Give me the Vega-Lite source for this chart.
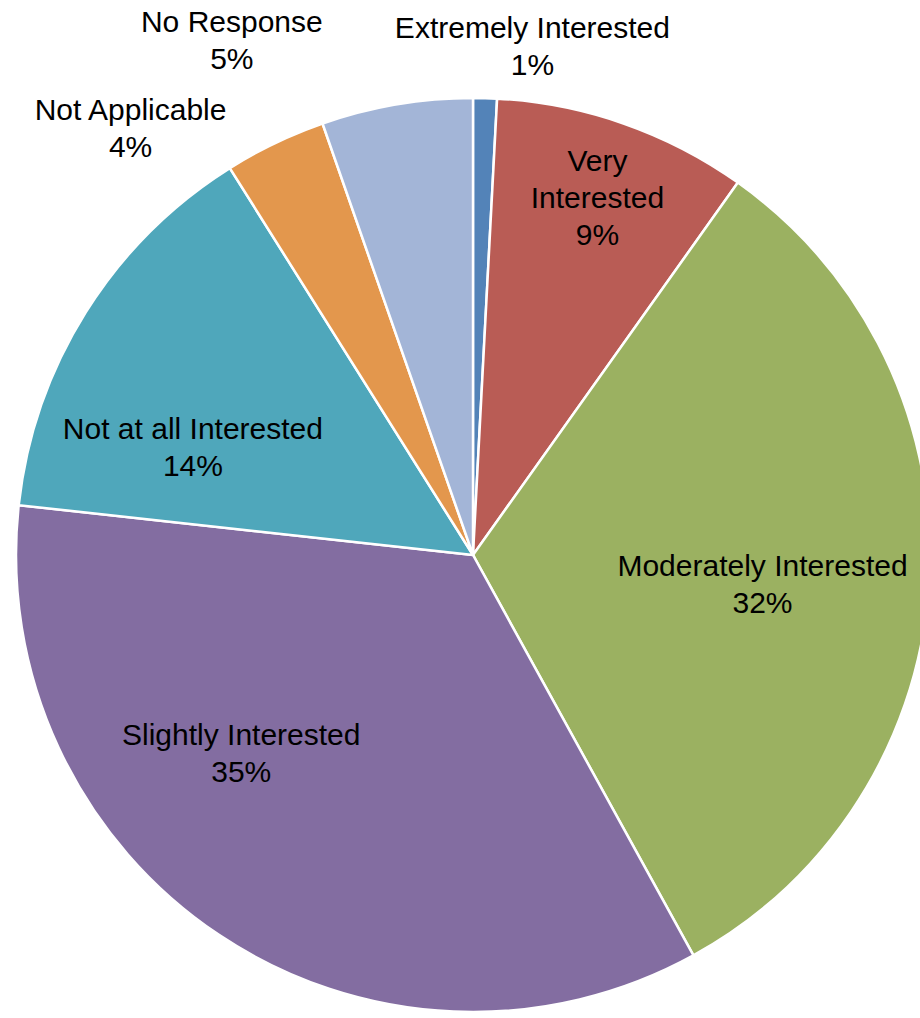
{
  "$schema": "https://vega.github.io/schema/vega-lite/v6.json",
  "autosize": {"type": "none"},
  "width": 914,
  "height": 914,
  "padding": {"left": 16, "top": 98, "right": 0, "bottom": 0},
  "background": "white",
  "config": {"view": {"stroke": null}, "text": {"font": "Liberation Sans", "fontSize": 30, "color": "#000000", "lineBreak": "\n", "lineHeight": 37, "baseline": "middle", "align": "center"}},
  "data": {"values": [
    {"category": "Extremely Interested", "value": 0.84, "label": "Extremely Interested\n1%"},
    {"category": "Very Interested", "value": 9.0, "label": "Very\nInterested\n9%"},
    {"category": "Moderately Interested", "value": 32.15, "label": "Moderately Interested\n32%"},
    {"category": "Slightly Interested", "value": 34.75, "label": "Slightly Interested\n35%"},
    {"category": "Not at all Interested", "value": 14.33, "label": "Not at all Interested\n14%"},
    {"category": "Not Applicable", "value": 3.59, "label": "Not Applicable\n4%"},
    {"category": "No Response", "value": 5.34, "label": "No Response\n5%"}
  ]},
  "transform": [{"window": [{"op": "row_number", "as": "rank"}]}],
  "encoding": {
    "theta": {"field": "value", "type": "quantitative", "stack": true},
    "order": {"field": "rank", "type": "quantitative"}
  },
  "layer": [
    {
      "mark": {"type": "arc", "stroke": "white", "strokeWidth": 2.5},
      "encoding": {
        "color": {"field": "category", "type": "nominal", "legend": null,
          "scale": {"domain": ["Extremely Interested", "Very Interested", "Moderately Interested", "Slightly Interested", "Not at all Interested", "Not Applicable", "No Response"],
                    "range": ["#5383B8", "#B95C55", "#9BB161", "#836DA1", "#4FA7BB", "#E3974D", "#A3B5D7"]}}
      }
    },
    {"mark": {"type": "text", "radius": 378, "dy": -36},
     "encoding": {"text": {"condition": {"test": "datum.category === 'Very Interested'", "field": "label"}, "value": ""}}},
    {"mark": {"type": "text", "radius": 290, "dy": -5},
     "encoding": {"text": {"condition": {"test": "datum.category === 'Moderately Interested'", "field": "label"}, "value": ""}}},
    {"mark": {"type": "text", "radius": 304, "dx": -63, "dy": -71.5},
     "encoding": {"text": {"condition": {"test": "datum.category === 'Slightly Interested'", "field": "label"}, "value": ""}}},
    {"mark": {"type": "text", "radius": 301, "dx": -25, "dy": 34.5},
     "encoding": {"text": {"condition": {"test": "datum.category === 'Not at all Interested'", "field": "label"}, "value": ""}}},
    {"mark": {"type": "text", "radius": 509, "dx": 46, "dy": -17.5},
     "encoding": {"text": {"condition": {"test": "datum.category === 'Extremely Interested'", "field": "label"}, "value": ""}}},
    {"mark": {"type": "text", "radius": 522, "dx": -154, "dy": -17.5},
     "encoding": {"text": {"condition": {"test": "datum.category === 'No Response'", "field": "label"}, "value": ""}}},
    {"mark": {"type": "text", "radius": 474, "dx": -137, "dy": -17},
     "encoding": {"text": {"condition": {"test": "datum.category === 'Not Applicable'", "field": "label"}, "value": ""}}}
  ]
}
